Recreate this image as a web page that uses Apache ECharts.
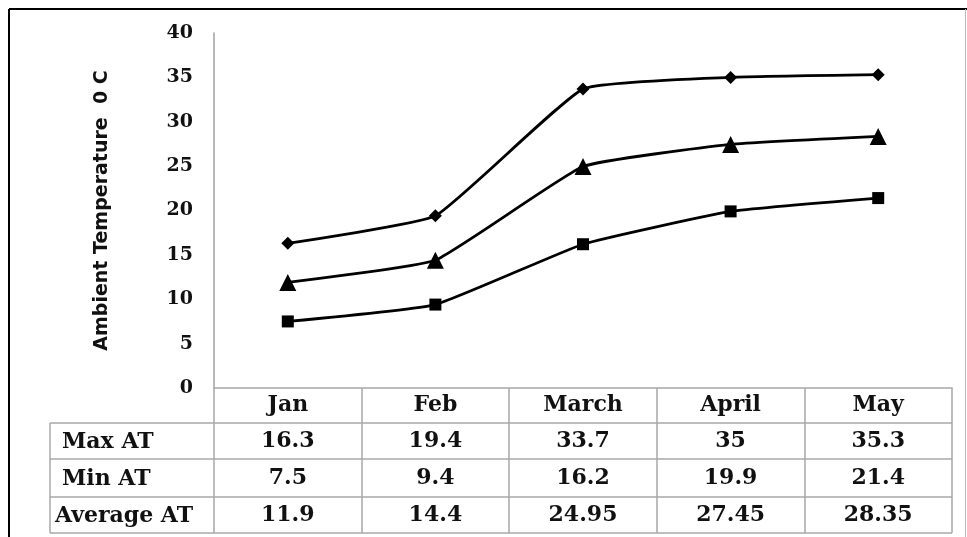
<!DOCTYPE html>
<html>
<head>
<meta charset="utf-8">
<script src="https://cdn.jsdelivr.net/npm/echarts@6/dist/echarts.min.js"></script>
<style>
  html, body { margin: 0; padding: 0; background: #fff; }
  #chart { width: 967px; height: 537px; }
</style>
</head>
<body>
<div id="chart"></div>
<script>
const months = ["Jan", "Feb", "March", "April", "May"];
const maxAT = [16.3, 19.4, 33.7, 35, 35.3];
const minAT = [7.5, 9.4, 16.2, 19.9, 21.4];
const avgAT = [11.9, 14.4, 24.95, 27.45, 28.35];
const rowNames = ["Max AT", "Min AT", "Average AT"];

const serif = "'DejaVu Serif', 'Liberation Serif', serif";
const tableLine = "#a8a8a8";

const chart = echarts.init(document.getElementById("chart"));

const cellLabel = { interval: 0, margin: 6, color: "#111", fontFamily: serif, fontWeight: "bold", fontSize: 22 };

// one extra x axis per table row, pushed down with offset
function rowAxis(values, offset) {
  return {
    type: "category",
    gridIndex: 0,
    position: "bottom",
    offset: offset,
    data: values.map(String),
    axisLine: { show: false },
    axisTick: { show: false },
    axisLabel: cellLabel,
  };
}

function lineSeries(name, data, symbol, size) {
  return {
    name: name,
    type: "line",
    xAxisIndex: 0,
    data: data,
    smooth: 0.12,
    symbol: symbol,
    symbolSize: size,
    lineStyle: { color: "#000", width: 2.8 },
    itemStyle: { color: "#000" },
  };
}

const rowY = [423, 459, 497, 533];
const graphics = [];
// frame
graphics.push({ type: "line", shape: { x1: 9, y1: 9, x2: 967, y2: 9 }, style: { stroke: "#000", lineWidth: 2 } });
graphics.push({ type: "line", shape: { x1: 9, y1: 9, x2: 9, y2: 537 }, style: { stroke: "#000", lineWidth: 2 } });
graphics.push({ type: "line", shape: { x1: 965.5, y1: 9, x2: 965.5, y2: 537 }, style: { stroke: "#bbb", lineWidth: 1 } });
// table rows
rowY.forEach((y) => {
  graphics.push({ type: "line", shape: { x1: 50, y1: y, x2: 952, y2: y }, style: { stroke: tableLine, lineWidth: 1.5 } });
});
graphics.push({ type: "line", shape: { x1: 50, y1: rowY[0], x2: 50, y2: rowY[3] }, style: { stroke: tableLine, lineWidth: 1.5 } });
rowNames.forEach((name, i) => {
  graphics.push({
    type: "text",
    x: i === 2 ? 55 : 62,
    y: (rowY[i] + rowY[i + 1]) / 2 + 1,
    style: { text: name, fill: "#111", font: "bold 22px " + serif, textVerticalAlign: "middle" },
  });
});

chart.setOption({
  backgroundColor: "#fff",
  animation: false,
  grid: { left: 214, right: 15, top: 33, bottom: 149 },
  xAxis: [
    {
      type: "category",
      data: months,
      boundaryGap: true,
      axisLine: { lineStyle: { color: tableLine, width: 1.5 } },
      axisTick: { show: true, interval: 0, length: 145, lineStyle: { color: tableLine, width: 1.5 } },
      axisLabel: cellLabel,
    },
    rowAxis(maxAT, 36),
    rowAxis(minAT, 73),
    rowAxis(avgAT, 110),
  ],
  yAxis: {
    type: "value",
    min: 0,
    max: 40,
    interval: 5,
    name: "Ambient Temperature  0 C",
    nameLocation: "middle",
    nameGap: 102,
    nameTextStyle: { color: "#111", fontFamily: "'DejaVu Sans', sans-serif", fontWeight: "bold", fontSize: 19 },
    axisLine: { show: true, lineStyle: { color: "#a0a0a0", width: 1.5 } },
    axisTick: { show: false },
    splitLine: { show: false },
    axisLabel: { margin: 21, color: "#111", fontFamily: serif, fontWeight: "bold", fontSize: 19 },
  },
  series: [
    lineSeries("Max AT", maxAT, "diamond", 13),
    lineSeries("Min AT", minAT, "rect", 12),
    lineSeries("Average AT", avgAT, "triangle", 17),
  ],
  graphic: graphics,
});
</script>
</body>
</html>
